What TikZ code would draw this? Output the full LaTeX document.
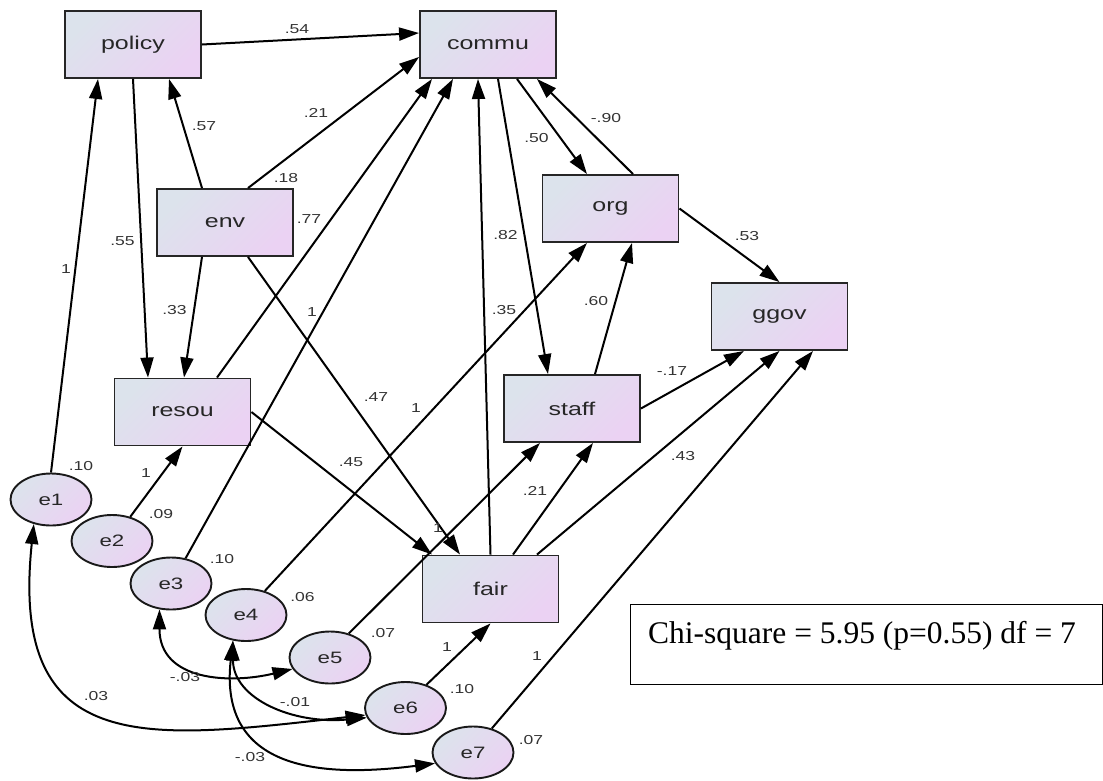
\documentclass[tikz,border=0pt]{standalone}
\usepackage{fontspec}
\setmainfont{Liberation Serif}
\newfontfamily\amos[FakeStretch=1.35]{Liberation Sans}
\usetikzlibrary{shapes.geometric,arrows.meta}
\definecolor{ca}{HTML}{DCE3EC}
\definecolor{cb}{HTML}{EBD2F3}
\begin{document}
\begin{tikzpicture}[x=1pt,y=-1pt,
  var/.style={rectangle, draw=black!85, line width=1.9pt, minimum width=136pt, minimum height=67pt, inner sep=0pt,
    top color=ca, bottom color=cb, shading angle=45, font=\amos\fontsize{18.5}{18.5}\selectfont, text=black!85},
  err/.style={ellipse, draw=black!90, line width=1.9pt, minimum width=81pt, minimum height=52pt, inner sep=0pt,
    top color=ca, bottom color=cb, shading angle=45, font=\amos\fontsize{16.5}{16.5}\selectfont, text=black!85},
  conn/.style={line width=2pt, -{Triangle[length=20pt,width=13pt]}},
  cov/.style={line width=2pt, {Triangle[length=20pt,width=13pt]}-{Triangle[length=20pt,width=13pt]}},
  num/.style={font=\amos\fontsize{13}{13}\selectfont, text=black!80, inner sep=0pt}
]
\useasboundingbox (0,0) rectangle (1103,780);

% observed variables
\node[var] (policy) at (133,44.5) {policy};
\node[var] (commu) at (488,44.5) {commu};
\node[var] (env) at (225,222.5) {env};
\node[var] (org) at (610.5,208.5) {org};
\node[var] (ggov) at (779.5,316.5) {ggov};
\node[var] (resou) at (182.5,412) {resou};
\node[var] (staff) at (572,408.5) {staff};
\node[var] (fair) at (490.5,589) {fair};

% error terms
\node[err] (e1) at (51,499.5) {e1};
\node[err] (e2) at (112,541) {e2};
\node[err] (e3) at (171,583.5) {e3};
\node[err] (e4) at (246,615) {e4};
\node[err] (e5) at (330,657.5) {e5};
\node[err] (e6) at (405.5,708) {e6};
\node[err] (e7) at (473,752.5) {e7};

% regression paths
\draw[conn] (policy.east) -- ([yshift=11.5pt]commu.west);
\draw[conn] ([xshift=-23pt]env.north) -- ([xshift=36pt]policy.south);
\draw[conn] ([xshift=23pt]env.north) -- ([yshift=-12.5pt]commu.west);
\draw[conn] (policy.south) -- ([xshift=-34.5pt]resou.north);
\draw[conn] ([xshift=-23pt]env.south) -- ([xshift=1.5pt]resou.north);
\draw[conn] ([xshift=23pt]env.south) -- ([xshift=-30.5pt]fair.north);
\draw[conn] (resou.east) -- ([xshift=-58.5pt]fair.north);
\draw[conn] ([xshift=34.5pt]resou.north) -- ([xshift=-56pt]commu.south);
\draw[conn] (e3.60) -- ([xshift=-35pt]commu.south);
\draw[conn] (fair.north) -- ([xshift=-10pt]commu.south);
\draw[conn] ([xshift=10pt]commu.south) -- ([xshift=-24pt]staff.north);
\draw[conn] ([xshift=29pt]commu.south) -- ([xshift=-23.5pt]org.north);
\draw[conn] ([xshift=22.5pt]org.north) -- ([xshift=49pt]commu.south);
\draw[conn] (org.east) -- (ggov.north);
\draw[conn] ([xshift=23pt]staff.north) -- ([xshift=21.5pt]org.south);
\draw[conn] (e4.52) -- ([xshift=-23.5pt]org.south);
\draw[conn] (staff.east) -- ([xshift=-35.5pt]ggov.south);
\draw[conn] ([xshift=22.5pt]fair.north) -- ([xshift=21pt]staff.south);
\draw[conn] ([xshift=46.5pt]fair.north) -- (ggov.south);
\draw[conn] (e7.52) -- ([xshift=33.5pt]ggov.south);
\draw[conn] (e6.48) -- (fair.south);
\draw[conn] (e1.north) -- ([xshift=-35pt]policy.south);
\draw[conn] (e2.53) -- (resou.south);
\draw[conn] (e5.52) -- ([xshift=-32pt]staff.south);

% covariances
\draw[cov] (e1.235) .. controls +(-25,237) and +(-215,24) .. (e6.190);
\draw[cov] (e3.246) .. controls +(0,72) and +(-62,15) .. (e5.197);
\draw[cov] (e4.243) .. controls +(0,58) and +(-74,7) .. (e6.194);
\draw[cov] (e4.243) .. controls +(-15,132) and +(-110,14) .. (e7.196);

% estimates
\node[num] (l01) at (297,29) {.54};
\node[num] (l02) at (204,126) {.57};
\node[num] (l03) at (316,113) {.21};
\node[num] (l04) at (286,178) {.18};
\node[num] (l05) at (309,219) {.77};
\node[num] (l06) at (122.5,241) {.55};
\node[num] (l07) at (66,269) {1};
\node[num] (l08) at (174.5,310) {.33};
\node[num] (l09) at (312,312) {1};
\node[num] (l10) at (376,397) {.47};
\node[num] (l11) at (416,408) {1};
\node[num] (l12) at (351,462) {.45};
\node[num] (l13) at (81,466) {.10};
\node[num] (l14) at (146,473) {1};
\node[num] (l15) at (161,514) {.09};
\node[num] (l16) at (222,559) {.10};
\node[num] (l17) at (302.5,597) {.06};
\node[num] (l18) at (383,633) {.07};
\node[num] (l19) at (438,528) {1};
\node[num] (l20) at (185,677) {-.03};
\node[num] (l21) at (96,696) {.03};
\node[num] (l22) at (295,702) {-.01};
\node[num] (l23) at (250,757) {-.03};
\node[num] (l24) at (462,689) {.10};
\node[num] (l25) at (531,740) {.07};
\node[num] (l26) at (447,647) {1};
\node[num] (l27) at (537,656) {1};
\node[num] (l28) at (536.5,138) {.50};
\node[num] (l29) at (606,118) {-.90};
\node[num] (l30) at (505.5,235) {.82};
\node[num] (l31) at (747,236) {.53};
\node[num] (l32) at (504,310) {.35};
\node[num] (l33) at (596,301) {.60};
\node[num] (l34) at (672,371) {-.17};
\node[num] (l35) at (535,491) {.21};
\node[num] (l36) at (683,456) {.43};

% fit box
\node[draw=black, line width=1pt, minimum width=472pt, minimum height=80pt, inner sep=0pt, anchor=north west] (chibox) at (629.5,604) {};
\node[anchor=base west, inner sep=0pt, font=\fontsize{31.5}{31.5}\selectfont] (chi) at (648,643) {Chi-square = 5.95 (p=0.55) df = 7};
\end{tikzpicture}
\end{document}
